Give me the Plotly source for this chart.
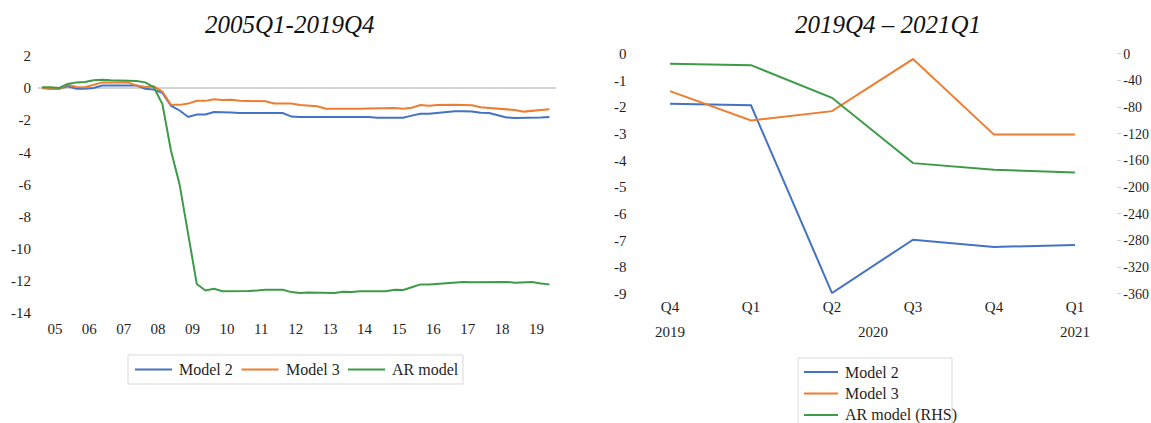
import plotly.graph_objects as go

W, H = 1151, 423

# ---- 2005Q1-2019Q4 (quarterly, 60 observations) ----
years = list(range(2005, 2020))
quarter_x = [y + q / 4 for y in years for q in range(4)]
year_ticks = [f"{y % 100:02d}" for y in years]
left_yticks = list(range(-14, 3, 2))

model2_long = [0.0, -0.05, -0.05, 0.1, -0.05, -0.05, 0.0, 0.15, 0.15, 0.15,
               0.15, 0.15, -0.05, -0.1, -0.3, -1.1, -1.4, -1.8, -1.65, -1.65,
               -1.5, -1.5, -1.52, -1.56, -1.55, -1.55, -1.55, -1.55, -1.56, -1.78,
               -1.8, -1.8, -1.8, -1.8, -1.8, -1.8, -1.78, -1.78, -1.8, -1.85,
               -1.86, -1.85, -1.85, -1.72, -1.6, -1.6, -1.54, -1.52, -1.45, -1.45,
               -1.47, -1.54, -1.56, -1.7, -1.83, -1.86, -1.86, -1.85, -1.83, -1.8]
model3_long = [0.0, -0.05, -0.06, 0.2, 0.06, 0.05, 0.2, 0.35, 0.35, 0.35,
               0.35, 0.15, 0.06, 0.1, -0.23, -1.05, -1.05, -0.97, -0.8, -0.8,
               -0.7, -0.75, -0.73, -0.8, -0.82, -0.83, -0.83, -0.97, -0.97, -0.97,
               -1.06, -1.12, -1.14, -1.29, -1.29, -1.29, -1.33, -1.29, -1.27, -1.25,
               -1.25, -1.25, -1.29, -1.23, -1.06, -1.1, -1.06, -1.04, -1.04, -1.06,
               -1.08, -1.2, -1.25, -1.31, -1.35, -1.37, -1.47, -1.43, -1.39, -1.33]
ar_long = [0.05, 0.05, 0.0, 0.25, 0.35, 0.37, 0.48, 0.52, 0.48, 0.48,
           0.48, 0.44, 0.35, 0.05, -1.0, -3.9, -6.0, -9.1, -12.2, -12.6,
           -12.5, -12.65, -12.65, -12.63, -12.63, -12.6, -12.55, -12.55, -12.55, -12.7,
           -12.75, -12.73, -12.73, -12.75, -12.75, -12.68, -12.7, -12.65, -12.65, -12.65,
           -12.65, -12.55, -12.57, -12.4, -12.22, -12.22, -12.18, -12.18, -12.1, -12.07,
           -12.08, -12.07, -12.05, -12.05, -12.07, -12.12, -12.1, -12.07, -12.16, -12.22]

# ---- 2019Q4 - 2021Q1 ----
short_quarters = ["Q4", "Q1", "Q2", "Q3", "Q4", "Q1"]
short_years = [("2019", 0), ("2020", 2.5), ("2021", 5)]
right_yticks = list(range(-9, 1))
rhs_yticks = list(range(-360, 1, 40))
model2_short = [-1.87, -1.93, -8.97, -6.97, -7.24, -7.17]
model3_short = [-1.40, -2.50, -2.15, -0.20, -3.03, -3.03]
ar_short_rhs = [-15, -17, -66, -164, -174, -178]

BLUE, ORANGE, GREEN = "#4472C4", "#ED7D31", "#3D9B48"
SERIF = "Liberation Serif"
TXT = "#1f1f1f"
KEY_BORDER = "#d9d9d9"


def fx(px):
    return px / W


def fy(py):
    return (H - py) / H


def labels(vals):
    # plain hyphen-minus for negative numbers
    return [str(v) for v in vals]


fig = go.Figure()
line = dict(width=2)

left_series = [
    ("Model 2", model2_long, BLUE),
    ("Model 3", model3_long, ORANGE),
    ("AR model", ar_long, GREEN),
]
for name, vals, color in left_series:
    fig.add_trace(go.Scatter(x=quarter_x, y=vals, name=name, mode="lines", showlegend=False,
                             line=dict(color=color, **line), xaxis="x", yaxis="y"))

idx = list(range(len(short_quarters)))
right_series = [
    ("Model 2", model2_short, BLUE, "y2"),
    ("Model 3", model3_short, ORANGE, "y2"),
    ("AR model (RHS)", ar_short_rhs, GREEN, "y3"),
]
for name, vals, color, yax in right_series:
    fig.add_trace(go.Scatter(x=idx, y=vals, name=name, mode="lines", showlegend=False,
                             line=dict(color=color, **line), xaxis="x2", yaxis=yax))

tickfont = dict(family=SERIF, size=15, color=TXT)
rhs_tickfont = dict(family=SERIF, size=14, color=TXT)
keyfont = dict(family=SERIF, size=16, color=TXT)

# left panel: zero at y=88px, 16.07 px per unit
left_top, left_bot = 88 - 2 * 16.07, 88 + 14 * 16.07
# right panel: zero at y=53.8px, 26.67 px per unit
right_top, right_bot = 53.8, 53.8 + 9 * 26.67

title_font = dict(family=SERIF, size=25, color="#111", style="italic")
annotations = [
    dict(text="2005Q1-2019Q4", x=fx(289.5), y=fy(25), xref="paper", yref="paper",
         showarrow=False, font=title_font, xanchor="center", yanchor="middle"),
    dict(text="2019Q4 \u2013 2021Q1", x=fx(888), y=fy(25), xref="paper", yref="paper",
         showarrow=False, font=title_font, xanchor="center", yanchor="middle"),
]
for label, pos in short_years:
    annotations.append(dict(text=label, x=pos, y=fy(332), xref="x2", yref="paper",
                            showarrow=False, font=tickfont,
                            xanchor="center", yanchor="middle"))

shapes = []


def add_key_entry(name, color, x_line0, x_line1, y_px):
    shapes.append(dict(type="line", xref="paper", yref="paper",
                       x0=fx(x_line0), x1=fx(x_line1), y0=fy(y_px), y1=fy(y_px),
                       line=dict(color=color, width=2)))
    annotations.append(dict(text=name, x=fx(x_line1 + 5), y=fy(y_px), xref="paper",
                            yref="paper", showarrow=False, font=keyfont,
                            xanchor="left", yanchor="middle"))


# horizontal key under the left panel
shapes.append(dict(type="rect", xref="paper", yref="paper",
                   x0=fx(128), x1=fx(463), y0=fy(384), y1=fy(355),
                   line=dict(color=KEY_BORDER, width=1), fillcolor="white", layer="below"))
for k, (name, _, color) in enumerate(left_series):
    x0 = 135 + 106.5 * k
    add_key_entry(name, color, x0, x0 + 37, 369.5)

# vertical key under the right panel, running off the bottom edge
shapes.append(dict(type="rect", xref="paper", yref="paper",
                   x0=fx(798), x1=fx(952), y0=fy(440), y1=fy(358),
                   line=dict(color=KEY_BORDER, width=1), fillcolor="white", layer="below"))
for k, (name, _, color, _) in enumerate(right_series):
    add_key_entry(name, color, 804, 838, 372 + 21.5 * k)

fig.update_layout(
    width=W, height=H,
    margin=dict(l=0, r=0, t=0, b=0),
    paper_bgcolor="white", plot_bgcolor="white",
    font=dict(family=SERIF, color=TXT),
    showlegend=False,
    xaxis=dict(domain=[fx(38), fx(556)], range=[2004.884, 2019.942], automargin=False,
               anchor="y", tickvals=[y + 0.375 for y in years], ticktext=year_ticks,
               showgrid=False, zeroline=False, showline=False, ticks="",
               tickfont=tickfont, ticklabelstandoff=5),
    yaxis=dict(domain=[fy(left_bot), fy(left_top)], range=[-14, 2], automargin=False,
               anchor="x", tickvals=left_yticks, ticktext=labels(left_yticks),
               showgrid=False, zeroline=True, zerolinecolor="#d4d4d4", zerolinewidth=1.5,
               showline=False, ticks="", tickfont=tickfont, ticklabelstandoff=6),
    xaxis2=dict(domain=[fx(629.5), fx(1115.5)], range=[-0.5, 5.5], automargin=False,
                anchor="y2", tickvals=idx, ticktext=short_quarters,
                showgrid=False, zeroline=False, showline=False, ticks="",
                tickfont=tickfont, ticklabelstandoff=2),
    yaxis2=dict(domain=[fy(right_bot), fy(right_top)], range=[-9, 0],
                tickvals=right_yticks, ticktext=labels(right_yticks),
                anchor="x2", automargin=False, showgrid=False, zeroline=False,
                showline=False, ticks="", tickfont=tickfont, ticklabelstandoff=2),
    yaxis3=dict(range=[-360, 0], tickvals=rhs_yticks, ticktext=labels(rhs_yticks),
                overlaying="y2", side="right", anchor="x2",
                automargin=False, showgrid=False, zeroline=False, showline=False,
                ticks="outside", ticklen=4, tickcolor="#cfcfcf", tickwidth=1,
                tickfont=rhs_tickfont, ticklabelstandoff=0),
    shapes=shapes,
    annotations=annotations,
)

fig.write_html("out.html")
